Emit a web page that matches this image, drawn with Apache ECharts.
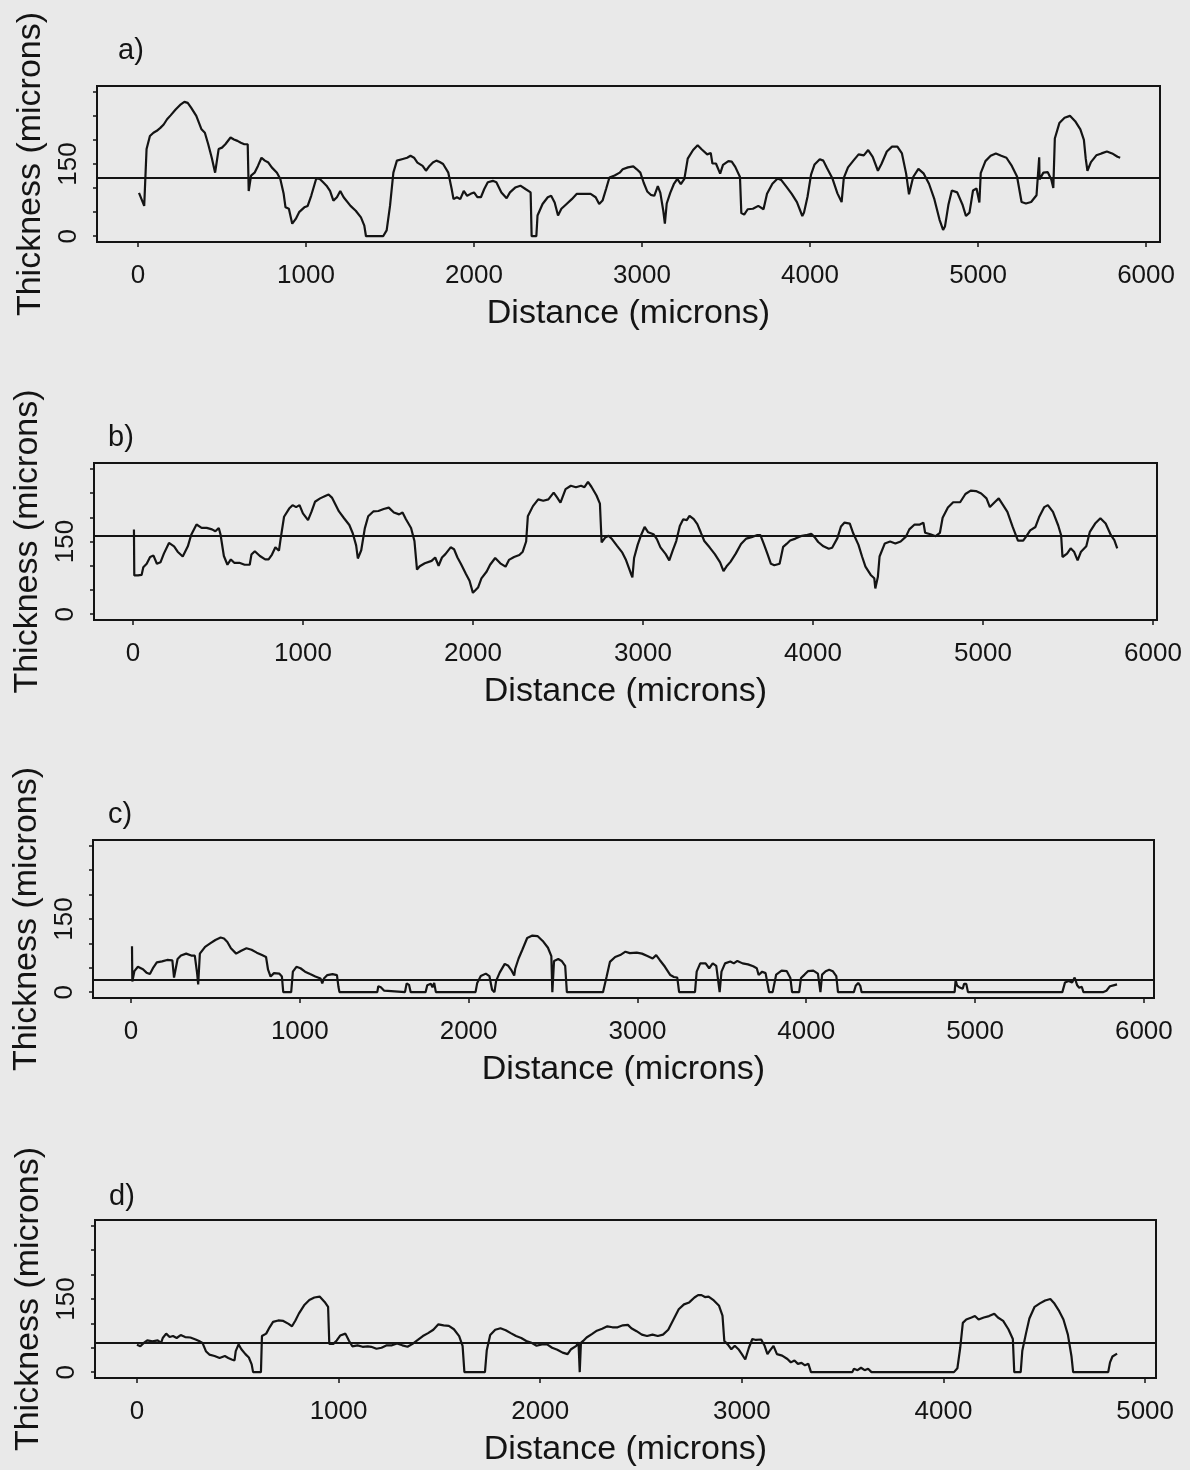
<!DOCTYPE html>
<html>
<head>
<meta charset="utf-8">
<title>Thickness profiles</title>
<style>
  html, body { margin: 0; padding: 0; background: #e9e9e9; }
  #chart { width: 1190px; height: 1470px; }
</style>
<script src="https://cdn.jsdelivr.net/npm/echarts@6/dist/echarts.min.js"></script>
</head>
<body>
<div id="chart"></div>
<script>
// thickness profiles: [distance (microns), thickness (microns)]
var profileA = [
  [6,90],[37,63],[51,181],[71,208],[92,215],[112,219],[133,225],[153,232],[173,243],[194,251],[224,263],[255,274],
  [276,279],[296,277],[316,267],[347,250],[378,222],[398,215],[418,191],[439,163],[459,132],[469,128],[480,181],
  [500,184],[520,191],[551,205],[571,201],[592,198],[612,194],[633,191],[653,191],[659,94],[673,126],[694,132],
  [714,146],[735,163],[755,157],[776,153],[796,143],[827,132],[847,119],[867,88],[878,60],[898,57],[918,26],[939,36],
  [959,50],[990,60],[1010,63],[1031,84],[1061,120],[1082,119],[1102,112],[1122,105],[1143,94],[1163,74],[1184,81],
  [1204,94],[1224,81],[1265,63],[1296,53],[1327,39],[1347,22],[1357,0],[1459,0],[1480,12],[1490,15],[1500,63],
  [1520,132],[1541,157],[1571,160],[1602,163],[1622,167],[1643,163],[1663,153],[1694,146],[1714,136],[1735,146],
  [1755,153],[1776,157],[1796,154],[1816,150],[1847,132],[1867,98],[1878,77],[1898,81],[1918,77],[1939,94],[1959,84],
  [1980,88],[2000,91],[2020,81],[2041,81],[2061,98],[2082,112],[2112,115],[2133,112],[2163,91],[2194,79],[2214,91],
  [2245,101],[2276,105],[2306,98],[2337,91],[2343,0],[2371,0],[2378,43],[2408,67],[2439,81],[2459,84],[2480,70],
  [2500,43],[2520,57],[2551,67],[2582,77],[2612,88],[2653,88],[2694,88],[2724,81],[2745,67],[2765,74],[2786,98],
  [2806,122],[2837,126],[2867,132],[2885,139],[2916,143],[2948,145],[2969,139],[2990,132],[3010,111],[3031,93],
  [3052,86],[3073,84],[3094,104],[3109,90],[3126,54],[3136,26],[3147,68],[3168,90],[3189,108],[3210,119],[3231,108],
  [3252,119],[3272,161],[3304,179],[3331,189],[3356,180],[3388,170],[3409,173],[3419,151],[3440,151],[3465,130],
  [3482,148],[3514,156],[3534,155],[3555,144],[3583,123],[3591,48],[3608,45],[3629,56],[3660,57],[3692,63],[3723,56],
  [3744,88],[3776,109],[3807,120],[3828,117],[3859,103],[3891,88],[3922,71],[3954,42],[3964,49],[3985,82],[4006,128],
  [4027,149],[4058,160],[4079,157],[4100,142],[4132,121],[4163,89],[4188,71],[4201,121],[4226,143],[4258,157],
  [4289,170],[4320,168],[4346,179],[4373,165],[4404,136],[4425,150],[4457,176],[4488,186],[4520,186],[4547,172],
  [4572,130],[4589,87],[4614,123],[4645,140],[4677,130],[4708,109],[4740,77],[4771,34],[4792,13],[4803,20],[4824,66],
  [4844,95],[4876,91],[4907,66],[4928,42],[4949,49],[4970,95],[4991,99],[5008,70],[5016,131],[5044,156],[5075,167],
  [5106,172],[5138,167],[5169,163],[5201,146],[5232,124],[5259,71],[5285,68],[5316,71],[5348,85],[5364,164],
  [5366,118],[5389,132],[5415,133],[5436,118],[5448,100],[5457,203],[5484,235],[5515,246],[5547,250],[5578,239],
  [5609,222],[5630,200],[5641,161],[5651,136],[5672,154],[5704,168],[5735,172],[5767,176],[5798,172],[5830,165],
  [5846,163]
];

var profileB = [
  [6,175],[8,80],[30,80],[51,81],[61,97],[81,104],[101,118],[121,121],[141,104],[162,107],[182,125],[212,147],
  [242,140],[263,129],[293,119],[323,140],[343,164],[374,185],[404,178],[434,178],[465,175],[485,171],[505,178],
  [515,165],[535,120],[556,102],[576,113],[596,106],[626,106],[657,102],[687,102],[697,123],[717,130],[747,120],
  [778,113],[798,113],[818,123],[838,138],[859,131],[869,156],[889,201],[919,218],[939,225],[960,221],[980,225],
  [1000,208],[1030,194],[1050,211],[1071,232],[1101,239],[1131,244],[1151,247],[1172,240],[1192,226],[1212,212],
  [1242,198],[1273,184],[1293,167],[1313,142],[1323,115],[1343,132],[1364,177],[1384,202],[1414,212],[1444,213],
  [1475,217],[1505,220],[1535,210],[1566,206],[1586,210],[1606,196],[1636,178],[1656,151],[1671,92],[1687,99],
  [1717,105],[1757,110],[1778,117],[1798,100],[1818,117],[1838,124],[1869,138],[1889,134],[1909,117],[1929,104],
  [1959,83],[1980,69],[2000,44],[2010,40],[2030,55],[2050,74],[2081,88],[2101,102],[2131,116],[2161,105],[2192,98],
  [2212,112],[2242,118],[2273,122],[2293,129],[2313,150],[2323,202],[2353,223],[2384,237],[2414,234],[2444,237],
  [2475,251],[2495,241],[2515,230],[2545,258],[2576,265],[2606,262],[2636,265],[2656,262],[2677,273],[2697,263],
  [2727,245],[2747,228],[2757,148],[2778,158],[2798,162],[2818,155],[2848,141],[2879,127],[2899,113],[2928,85],
  [2938,76],[2948,116],[2969,143],[2990,164],[3010,180],[3031,169],[3062,165],[3082,155],[3103,138],[3134,124],
  [3155,111],[3175,131],[3196,151],[3217,182],[3237,196],[3258,194],[3274,203],[3299,196],[3320,186],[3340,169],
  [3361,151],[3392,138],[3423,124],[3454,107],[3474,89],[3495,100],[3515,108],[3546,125],[3577,145],[3608,156],
  [3639,159],[3670,163],[3691,163],[3711,145],[3732,125],[3753,104],[3773,101],[3804,104],[3825,139],[3845,145],
  [3866,152],[3897,156],[3928,161],[3959,163],[3990,166],[4010,159],[4031,149],[4062,140],[4093,135],[4113,137],
  [4144,157],[4165,181],[4186,189],[4217,187],[4237,167],[4268,143],[4289,119],[4309,98],[4340,81],[4361,74],
  [4367,53],[4382,77],[4392,119],[4423,146],[4454,150],[4485,146],[4516,150],[4547,160],[4567,175],[4598,185],
  [4629,185],[4650,189],[4660,168],[4691,165],[4722,161],[4747,168],[4763,199],[4794,220],[4825,231],[4866,231],
  [4897,248],[4928,255],[4959,254],[4990,249],[5021,239],[5041,221],[5072,232],[5093,239],[5113,228],[5144,211],
  [5175,180],[5206,152],[5237,152],[5258,162],[5278,173],[5309,180],[5330,200],[5361,221],[5382,225],[5412,211],
  [5443,183],[5460,163],[5468,118],[5495,125],[5516,136],[5536,129],[5557,111],[5577,129],[5608,140],[5629,170],
  [5660,187],[5691,198],[5722,187],[5753,163],[5773,153],[5790,136]
];

var profileC = [
  [6,94],[8,22],[20,43],[41,52],[71,47],[92,40],[112,37],[133,51],[153,61],[184,63],[214,66],[245,65],[255,30],
  [265,27],[276,68],[296,75],[327,79],[357,75],[378,75],[392,38],[398,16],[408,79],[439,93],[469,100],[500,107],
  [531,112],[551,110],[571,103],[592,90],[623,79],[653,85],[684,90],[714,87],[745,81],[776,76],[800,72],[812,46],
  [827,32],[847,39],[878,38],[894,32],[902,0],[949,0],[959,42],[980,52],[1004,49],[1031,42],[1061,37],[1092,32],
  [1123,28],[1133,18],[1143,28],[1163,35],[1194,37],[1220,35],[1229,11],[1235,0],[1459,0],[1465,12],[1480,10],
  [1490,6],[1500,3],[1510,0],[1623,0],[1633,18],[1647,15],[1657,0],[1745,0],[1755,14],[1776,17],[1786,10],[1796,19],
  [1806,0],[2041,0],[2051,19],[2072,33],[2102,38],[2123,33],[2139,5],[2153,0],[2163,23],[2184,40],[2214,58],
  [2235,54],[2255,44],[2270,34],[2276,48],[2296,69],[2317,86],[2347,111],[2378,116],[2408,115],[2439,105],[2470,91],
  [2490,74],[2496,0],[2506,64],[2531,68],[2551,64],[2572,54],[2582,0],[2796,0],[2817,31],[2837,62],[2868,72],
  [2898,76],[2929,83],[2955,80],[2964,77],[2996,81],[3027,79],[3059,74],[3090,69],[3111,76],[3132,66],[3163,52],
  [3195,35],[3216,31],[3236,30],[3247,0],[3341,0],[3351,42],[3372,59],[3404,59],[3425,49],[3446,59],[3467,54],
  [3487,0],[3498,42],[3519,59],[3550,63],[3571,59],[3592,64],[3623,59],[3655,57],[3686,53],[3707,49],[3718,35],
  [3739,42],[3759,39],[3780,0],[3801,0],[3822,36],[3854,44],[3885,43],[3906,29],[3916,0],[3958,0],[3969,29],
  [3990,36],[4010,43],[4042,44],[4069,38],[4084,0],[4094,36],[4115,43],[4136,46],[4157,43],[4178,33],[4188,0],
  [4282,0],[4293,13],[4308,19],[4320,13],[4328,0],[4879,0],[4885,25],[4893,14],[4906,10],[4914,7],[4927,7],
  [4935,17],[4948,17],[4958,0],[5517,0],[5533,20],[5554,23],[5575,20],[5590,30],[5605,14],[5617,9],[5632,11],
  [5642,0],[5757,0],[5778,3],[5799,12],[5820,14],[5841,16]
];

var profileD = [
  [0,56],[17,53],[34,60],[51,65],[77,63],[103,65],[120,60],[128,70],[145,79],[162,72],[179,74],[197,70],[217,76],
  [239,72],[265,71],[291,67],[308,64],[325,60],[342,43],[359,36],[385,33],[410,29],[436,33],[453,29],[470,26],
  [484,24],[490,43],[504,57],[518,47],[538,37],[555,30],[569,16],[576,0],[615,0],[620,74],[641,79],[658,92],
  [675,103],[701,106],[726,105],[752,99],[769,94],[786,106],[803,120],[829,137],[855,148],[880,153],[906,155],
  [931,144],[948,134],[954,58],[974,58],[991,65],[1008,75],[1034,79],[1051,65],[1068,53],[1094,55],[1119,52],
  [1145,53],[1162,52],[1188,48],[1213,50],[1239,55],[1265,55],[1290,59],[1316,55],[1342,52],[1367,58],[1393,66],
  [1418,74],[1444,80],[1470,87],[1495,98],[1521,96],[1547,95],[1572,88],[1598,74],[1615,54],[1624,0],[1726,0],
  [1735,45],[1752,76],[1777,87],[1803,90],[1829,86],[1854,80],[1880,74],[1906,70],[1931,64],[1957,60],[1982,54],
  [2008,57],[2034,57],[2059,50],[2085,46],[2111,40],[2136,37],[2153,47],[2179,54],[2190,61],[2196,0],[2202,60],
  [2213,64],[2230,71],[2256,78],[2281,85],[2307,89],[2333,94],[2358,92],[2384,92],[2410,96],[2435,97],[2452,90],
  [2478,84],[2504,77],[2530,74],[2557,77],[2583,74],[2609,77],[2635,87],[2661,108],[2687,129],[2713,139],[2739,143],
  [2765,153],[2783,158],[2800,158],[2817,154],[2835,155],[2861,147],[2887,136],[2904,116],[2913,64],[2930,57],
  [2948,47],[2965,54],[2983,47],[3000,37],[3017,26],[3035,50],[3052,68],[3070,66],[3096,67],[3113,54],[3127,37],
  [3139,44],[3157,54],[3174,37],[3200,34],[3226,27],[3243,20],[3261,24],[3278,17],[3296,19],[3313,14],[3330,17],
  [3343,0],[3548,0],[3556,7],[3574,4],[3591,9],[3609,4],[3626,7],[3643,0],[4052,0],[4069,8],[4083,50],[4096,101],
  [4113,108],[4139,112],[4156,115],[4174,108],[4200,112],[4226,115],[4252,120],[4270,112],[4296,105],[4322,88],
  [4344,68],[4351,0],[4383,0],[4391,44],[4409,79],[4426,110],[4452,134],[4478,141],[4504,147],[4530,150],[4548,142],
  [4574,125],[4595,108],[4617,77],[4635,32],[4643,0],[4817,0],[4826,20],[4838,32],[4861,38]
];

// mean thickness lines, one per panel
var meanThickness = [122, 162, 26, 60];
var panelLetters = ['a)', 'b)', 'c)', 'd)'];

// tick values
var distTicks = [0, 1000, 2000, 3000, 4000, 5000, 6000];
var distTicksShort = [0, 1000, 2000, 3000, 4000, 5000];
var thickTicks = [0, 50, 100, 150, 200, 250, 300];
var thickLabels = [0, 150];

var ink = '#141414';
var font = '"Liberation Sans", Arial, Helvetica, sans-serif';

// layout of the four boxes (pixels) and their distance ranges
var layout = [
  { data: profileA, ticks: distTicks,      box: { left: 97, top: 86,   width: 1063, height: 156 }, xMin: -244, xMax: 6083, letter: { left: 113, top: 31 } },
  { data: profileB, ticks: distTicks,      box: { left: 94, top: 463,  width: 1063, height: 157 }, xMin: -229, xMax: 6024, letter: { left: 103, top: 418 } },
  { data: profileC, ticks: distTicks,      box: { left: 93, top: 840,  width: 1061, height: 158 }, xMin: -225, xMax: 6060, letter: { left: 103, top: 795 } },
  { data: profileD, ticks: distTicksShort, box: { left: 95, top: 1220, width: 1061, height: 158 }, xMin: -208, xMax: 5054, letter: { left: 104, top: 1177 } }
];

var grids = [], xAxes = [], yAxes = [], series = [], titles = [];

layout.forEach(function (p, i) {
  grids.push({
    left: p.box.left, top: p.box.top, width: p.box.width, height: p.box.height,
    show: true, borderColor: ink, borderWidth: 2, backgroundColor: 'transparent'
  });

  xAxes.push({
    type: 'value', gridIndex: i, min: p.xMin, max: p.xMax,
    name: 'Distance (microns)', nameLocation: 'middle', nameGap: 55,
    nameTextStyle: { fontSize: 34, color: ink, fontFamily: font },
    axisLine: { show: true, onZero: false, lineStyle: { color: ink, width: 2 } },
    axisTick: { show: true, customValues: p.ticks, length: 5, lineStyle: { color: ink, width: 1.5 } },
    axisLabel: {
      customValues: p.ticks, fontSize: 26, margin: 21, color: ink, fontFamily: font,
      formatter: function (v) { return String(v); }
    },
    splitLine: { show: false }
  });

  yAxes.push({
    type: 'value', gridIndex: i, min: -12, max: 312,
    name: 'Thickness (microns)', nameLocation: 'middle', nameGap: 45,
    nameTextStyle: { fontSize: 34, color: ink, fontFamily: font },
    axisLine: { show: true, onZero: false, lineStyle: { color: ink, width: 2 } },
    axisTick: { show: true, customValues: thickTicks, length: 4, lineStyle: { color: ink, width: 1.5 } },
    axisLabel: { customValues: thickLabels, rotate: 90, fontSize: 26, margin: 15, color: ink, fontFamily: font },
    splitLine: { show: false }
  });

  series.push({
    type: 'line', xAxisIndex: i, yAxisIndex: i,
    data: p.data, showSymbol: false, symbol: 'none',
    lineStyle: { color: ink, width: 2.2 },
    markLine: {
      silent: true, symbol: 'none', label: { show: false },
      lineStyle: { color: ink, width: 2, type: 'solid' },
      data: [{ yAxis: meanThickness[i] }]
    }
  });

  titles.push({
    text: panelLetters[i], left: p.letter.left, top: p.letter.top,
    textStyle: { fontSize: 29, fontWeight: 'normal', color: ink, fontFamily: font }
  });
});

var chart = echarts.init(document.getElementById('chart'));
chart.setOption({
  animation: false,
  backgroundColor: '#e9e9e9',
  title: titles,
  grid: grids,
  xAxis: xAxes,
  yAxis: yAxes,
  series: series
});
</script>
</body>
</html>
